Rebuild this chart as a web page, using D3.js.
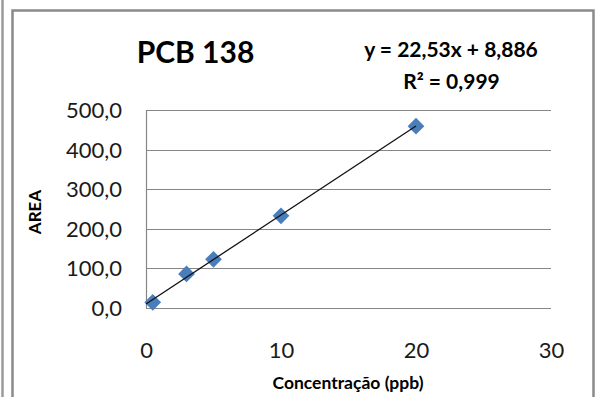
<!DOCTYPE html>
<html><head><meta charset="utf-8">
<script src="https://cdn.jsdelivr.net/npm/d3@7"></script>
<style>body{margin:0;background:#fff;} svg{display:block;}</style>
</head><body>
<svg id="c" width="596" height="397"></svg>
<script>
const title = "PCB 138";
const equationText = "y = 22,53x + 8,886";
const r2Text = "R² = 0,999";
const xTitle = "Concentração (ppb)";
const yTitle = "AREA";
const concentration = [0.5, 3, 5, 10, 20];
const area = [13, 85, 122, 232, 459];
const slope = 22.53, intercept = 8.886;
const trendRange = [0, 20];
const xTicks = [0, 10, 20, 30];
const yTicks = [0, 100, 200, 300, 400, 500];

const svg = d3.select("#c");
const font = "Lato, 'Open Sans', sans-serif";
// outer frames
svg.append("line").attr("x1",2.5).attr("x2",2.5).attr("y1",0).attr("y2",397)
  .attr("stroke","#9a9a9a").attr("stroke-width",2.5);
svg.append("rect").attr("x",12.5).attr("y",10.5).attr("width",581).attr("height",420)
  .attr("fill","#fff").attr("stroke","#8a8a8a").attr("stroke-width",2.5);

const x = d3.scaleLinear().domain([0,30]).range([146,551]);
const y = d3.scaleLinear().domain([0,500]).range([307.5,110]);
const fmt = v => d3.format(".1f")(v).replace(".", ",");

// gridlines
svg.append("g").selectAll("line").data(yTicks).join("line")
  .attr("x1",x(0)).attr("x2",x(30)).attr("y1",d=>Math.round(y(d))+0.5).attr("y2",d=>Math.round(y(d))+0.5)
  .attr("stroke","#868686").attr("stroke-width",1.2);
svg.append("line").attr("x1",x(0)+0.5).attr("x2",x(0)+0.5).attr("y1",y(500)).attr("y2",y(0)+1)
  .attr("stroke","#868686").attr("stroke-width",1.2);

// y axis labels
const yAxis = d3.axisLeft(y).tickValues(yTicks).tickFormat(fmt).tickSize(0).tickPadding(24);
const gy = svg.append("g").attr("transform",`translate(${x(0)},0)`).call(yAxis);
gy.select(".domain").remove();
gy.selectAll("text").attr("font-family",font).attr("font-size",22).attr("fill","#1a1a1a").attr("dy","0.36em");

// x axis labels
const xAxis = d3.axisBottom(x).tickValues(xTicks).tickFormat(d3.format("d")).tickSize(0).tickPadding(0);
const gx = svg.append("g").attr("transform",`translate(0,358)`).call(xAxis);
gx.select(".domain").remove();
gx.selectAll("text").attr("font-family",font).attr("font-size",22).attr("fill","#1a1a1a").attr("dy","0");

// markers
const pts = concentration.map((c,i)=>({c, a: area[i]}));
svg.append("g").selectAll("path").data(pts).join("path")
  .attr("d", d3.symbol().type(d3.symbolSquare).size(140))
  .attr("transform", d=>`translate(${x(d.c)},${y(d.a)}) rotate(45)`)
  .attr("fill","#4a7ebb");

// trendline on top
svg.append("line")
  .attr("x1",x(trendRange[0])).attr("y1",y(slope*trendRange[0]+intercept))
  .attr("x2",x(trendRange[1])).attr("y2",y(slope*trendRange[1]+intercept))
  .attr("stroke","#111").attr("stroke-width",1.3);

// titles
svg.append("text").attr("x",195.5).attr("y",62.5).attr("text-anchor","middle")
  .attr("font-family",font).attr("font-weight","bold").attr("font-size",30).attr("fill","#000").text(title);
svg.append("text").attr("x",451).attr("y",56.5).attr("text-anchor","middle")
  .attr("font-family",font).attr("font-weight","bold").attr("font-size",21).attr("fill","#000").text(equationText);
svg.append("text").attr("x",451.5).attr("y",89).attr("text-anchor","middle")
  .attr("font-family",font).attr("font-weight","bold").attr("font-size",21).attr("fill","#000").text(r2Text);
svg.append("text").attr("x",348).attr("y",389).attr("text-anchor","middle")
  .attr("font-family",font).attr("font-weight","bold").attr("font-size",17.5).attr("fill","#000").text(xTitle);
svg.append("text").attr("transform","translate(41,212) rotate(-90)").attr("text-anchor","middle")
  .attr("font-family",font).attr("font-weight","bold").attr("font-size",17).attr("fill","#000").text(yTitle);
</script>
</body></html>
